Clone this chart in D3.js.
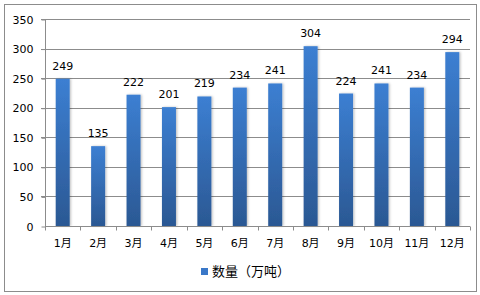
<!DOCTYPE html>
<html><head><meta charset="utf-8">
<script src="https://cdn.jsdelivr.net/npm/d3@7"></script>
<style>body{margin:0;background:#fff}svg{display:block}</style>
</head><body>
<script>
const categories = ["1月","2月","3月","4月","5月","6月","7月","8月","9月","10月","11月","12月"];
const values = [249,135,222,201,219,234,241,304,224,241,234,294];
const yTicks = [0,50,100,150,200,250,300,350];
const seriesName = "数量（万吨）";

const W=480,H=295;
const svg=d3.select("body").append("svg").attr("width",W).attr("height",H);
const defs=svg.append("defs");
const g=defs.append("linearGradient").attr("id","bg").attr("x1",0).attr("y1",0).attr("x2",0).attr("y2",1);
g.append("stop").attr("offset","0%").attr("stop-color","#3c7fd2");
g.append("stop").attr("offset","100%").attr("stop-color","#2b5893");
const f=defs.append("filter").attr("id","sh").attr("x","-30%").attr("y","-10%").attr("width","160%").attr("height","120%");
f.append("feDropShadow").attr("dx",1.2).attr("dy",0).attr("stdDeviation",1).attr("flood-color","#000").attr("flood-opacity",0.25);

svg.append("rect").attr("x",4.5).attr("y",4.5).attr("width",472).attr("height",287).attr("fill","#fff").attr("stroke","#8c8c8c");

const x=d3.scaleBand().domain(categories).range([45,470]);
const y=d3.scaleLinear().domain([0,350]).range([226,19]);
const font="DejaVu Sans, Verdana, sans-serif";

// gridlines
svg.append("g").selectAll("line").data(yTicks.filter(d=>d>0)).join("line")
  .attr("x1",41).attr("x2",470).attr("y1",d=>Math.round(y(d))+0.5).attr("y2",d=>Math.round(y(d))+0.5)
  .attr("stroke","#8c8c8c");

// y axis
const ya=svg.append("g").attr("transform","translate(45.5,0.5)")
  .call(d3.axisLeft(y).tickValues(yTicks).tickSize(4).tickPadding(8));
ya.select(".domain").attr("stroke","#8c8c8c").attr("d","M0,"+Math.round(y(350))+"V"+Math.round(y(0)));
ya.selectAll(".tick line").attr("stroke","#8c8c8c");
ya.selectAll(".tick text").attr("font-family",font).attr("font-size",11).attr("fill","#000");

// bars
svg.append("g").selectAll("rect").data(values).join("rect")
  .attr("x",(d,i)=>x(categories[i])+x.bandwidth()/2-7).attr("width",14)
  .attr("y",d=>y(d)).attr("height",d=>y(0)-y(d))
  .attr("fill","url(#bg)").attr("filter","url(#sh)");

// x axis
const xa=svg.append("g").attr("transform","translate(0,"+(Math.round(y(0))+0.5)+")");
xa.append("line").attr("x1",45).attr("x2",470).attr("stroke","#8c8c8c");
const edges=categories.map(c=>x(c)).concat([x.range()[1]]);
xa.selectAll("line.t").data(edges).join("line").attr("class","t")
  .attr("x1",d=>Math.round(d)+0.5).attr("x2",d=>Math.round(d)+0.5).attr("y1",0).attr("y2",4).attr("stroke","#8c8c8c");
xa.selectAll("text").data(categories).join("text")
  .attr("x",d=>x(d)+x.bandwidth()/2).attr("y",20).attr("text-anchor","middle")
  .attr("font-family","DejaVu Sans, 'Noto Sans CJK SC', sans-serif").attr("font-size",11).attr("fill","#000").text(d=>d);

// labels
svg.append("g").selectAll("text").data(values).join("text")
  .attr("x",(d,i)=>x(categories[i])+x.bandwidth()/2).attr("y",d=>y(d)-9)
  .attr("text-anchor","middle").attr("font-family",font).attr("font-size",11).attr("fill","#000").text(d=>d);

// legend
svg.append("rect").attr("x",201).attr("y",268).attr("width",7).attr("height",7).attr("fill","#3a78c8");
svg.append("text").attr("x",212).attr("y",276).attr("font-family","'Noto Sans CJK SC', sans-serif").attr("font-size",13).attr("fill","#000").text(seriesName);
</script>
</body></html>
